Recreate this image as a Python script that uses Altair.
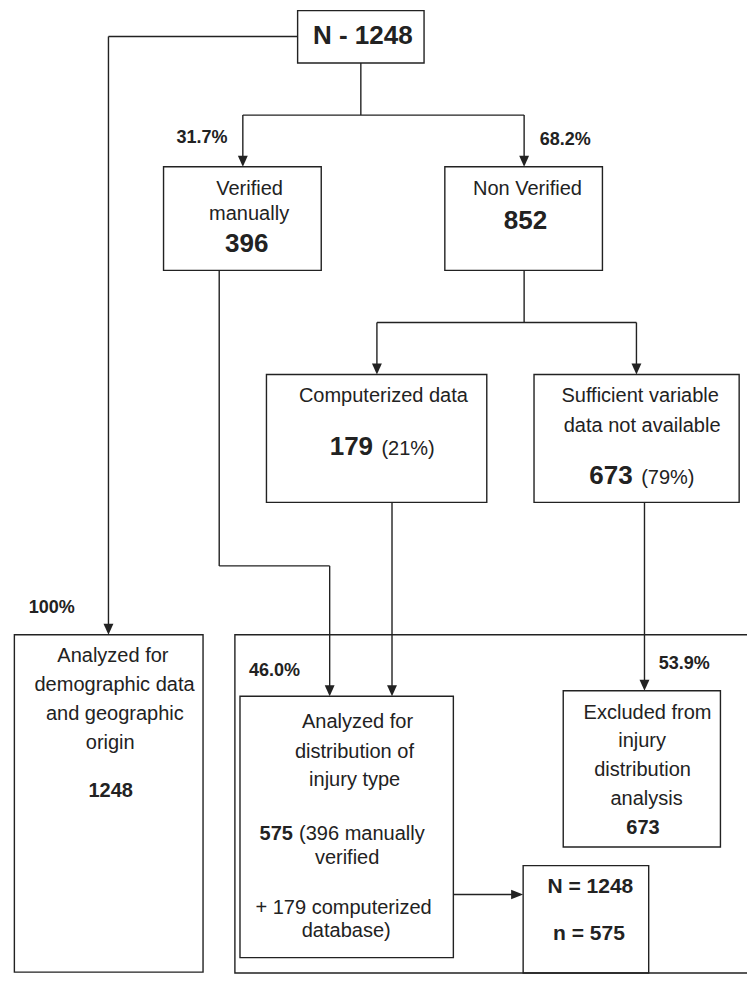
import altair as alt
import pandas as pd

# ---------------- content of the flow chart ----------------
# counts
n_total = 1248
n_verified = 396
n_nonverified = 852
n_computerized = 179
n_insufficient = 673
n_analyzed = 575

# text lines (label, x, baseline y, font size, weight, align) - layout in reference pixel space
txt_label = [
    f"N - {n_total}",
    "31.7%", "68.2%",
    "Verified", "manually", f"{n_verified}",
    "Non Verified", f"{n_nonverified}",
    "Computerized data", f"{n_computerized}", "(21%)",
    "Sufficient variable", "data not available", f"{n_insufficient}", "(79%)",
    "100%",
    "Analyzed for", "demographic data", "and geographic", "origin", f"{n_total}",
    "46.0%", "53.9%",
    "Analyzed for", "distribution of", "injury type",
    f"{n_analyzed}", f"({n_verified} manually", "verified",
    f"+ {n_computerized} computerized", "database)",
    "Excluded from", "injury", "distribution", "analysis", f"{n_insufficient}",
    f"N = {n_total}", f"n = {n_analyzed}",
]
txt_x = [
    366,
    202, 572.5,
    250.5, 250, 247.5,
    534, 532,
    387, 376.5, 385,
    649, 651, 641.3, 650,
    48.6,
    111, 112.7, 113, 108.3, 108.8,
    276, 694,
    360.6, 357.5, 357.7,
    294.7, 301, 350,
    346.4, 349.1,
    656.5, 651, 651.4, 655.5, 651.9,
    598.2, 596.8,
]
txt_y = [
    39.5,
    140.7, 142.7,
    193.3, 218.3, 251.7,
    193.3, 227.7,
    404, 458.3, 458.3,
    404, 434, 487.7, 487.7,
    618.3,
    668.3, 698.3, 727.3, 756.7, 805.7,
    682.7, 676,
    736, 765.7, 795,
    849.3, 849.3, 874.3,
    925, 948,
    726, 755, 784.3, 814.3, 843.3,
    904, 951.7,
]
txt_size = [
    26,
    18, 18,
    20, 20, 26,
    20, 26,
    20, 26, 20,
    20, 20, 26, 20,
    18,
    20, 20, 20, 20, 20,
    18, 18,
    20, 20, 20,
    20, 20, 20,
    20, 20,
    20, 20, 20, 20, 20,
    21, 21,
]
txt_weight = [
    "bold",
    "bold", "bold",
    "normal", "normal", "bold",
    "normal", "bold",
    "normal", "bold", "normal",
    "normal", "normal", "bold", "normal",
    "bold",
    "normal", "normal", "normal", "normal", "bold",
    "bold", "bold",
    "normal", "normal", "normal",
    "bold", "normal", "normal",
    "normal", "normal",
    "normal", "normal", "normal", "normal", "bold",
    "bold", "bold",
]
txt_align = [
    "center",
    "center", "center",
    "center", "center", "center",
    "center", "center",
    "center", "right", "left",
    "center", "center", "right", "left",
    "center",
    "center", "center", "center", "center", "center",
    "center", "center",
    "center", "center", "center",
    "right", "left", "center",
    "center", "center",
    "center", "center", "center", "center", "center",
    "center", "center",
]

# boxes (reference pixel space)
box_x1 = [235.5, 299.5, 162.7, 449.7, 267.7, 540.7, 10.5, 240.7, 570.5, 529.6]
box_y1 = [640.7, 5.7, 164.5, 164.5, 376, 376, 640.7, 703.3, 697.7, 875.7]
box_x2 = [820, 428.5, 323.6, 610.5, 492.5, 750, 203, 458.4, 730.9, 657.7]
box_y2 = [985, 59, 270, 270, 506, 506, 984, 969.3, 856.7, 985]

# connector segments
seg_x1 = [299.5, 106.5, 364, 243.6, 243.6, 530.6, 219.5, 219.5, 332.2, 530.6, 380.4, 380.4, 645.2, 395.8, 653.4, 458.4]
seg_y1 = [32, 32, 59, 112, 112, 112, 270, 570.7, 570.7, 270, 323, 323, 323, 506, 506, 905]
seg_x2 = [106.5, 106.5, 364, 530.6, 243.6, 530.6, 219.5, 332.2, 332.2, 530.6, 645.2, 380.4, 645.2, 395.8, 653.4, 522]
seg_y2 = [32, 632, 112, 112, 158, 158, 570.7, 570.7, 696, 323, 323, 370, 370, 696, 692, 905]

# arrow tips
down_x = [106.5, 243.6, 530.6, 380.4, 645.2, 332.2, 395.8, 653.4]
down_y = [640.7, 164.5, 164.5, 376, 376, 703.3, 703.3, 697.7]
right_x = [529.6]
right_y = [905]

# ---------------- scales ----------------
XD = [4, 758]
YD = [3, 989]
W, H = 739, 969
sx = W / (XD[1] - XD[0])
sy = H / (YD[1] - YD[0])
X = alt.Scale(domain=XD, nice=False, zero=False)
Y = alt.Scale(domain=YD, reverse=True, nice=False, zero=False)

INK = "#222222"
FONT = "Liberation Sans"
LW = 1.4

boxes = pd.DataFrame({"x": box_x1, "y": box_y1, "x2": box_x2, "y2": box_y2})
segs = pd.DataFrame({"x": seg_x1, "y": seg_y1, "x2": seg_x2, "y2": seg_y2})

R = 5.5  # arrow half size (px)
downs = pd.DataFrame({"x": down_x, "y": [v - R / sy for v in down_y]})
rights = pd.DataFrame({"x": [v - 6 / sx for v in right_x], "y": right_y})

texts = pd.DataFrame({
    "label": txt_label, "x": txt_x, "y": txt_y, "fsize": txt_size,
    "fweight": txt_weight, "falign": txt_align,
})

rect_layer = alt.Chart(boxes).mark_rect(
    fillOpacity=0, stroke=INK, strokeWidth=LW, clip=True
).encode(
    x=alt.X("x:Q", scale=X, axis=None),
    y=alt.Y("y:Q", scale=Y, axis=None),
    x2="x2:Q", y2="y2:Q",
)

seg_layer = alt.Chart(segs).mark_rule(color=INK, strokeWidth=LW).encode(
    x=alt.X("x:Q", scale=X, axis=None),
    y=alt.Y("y:Q", scale=Y, axis=None),
    x2="x2:Q", y2="y2:Q",
)

down_layer = alt.Chart(downs).mark_point(
    shape="M-0.9,-1L0.9,-1L0,1Z", filled=True, size=(2 * R) ** 2,
    color=INK, opacity=1, strokeWidth=0
).encode(
    x=alt.X("x:Q", scale=X, axis=None),
    y=alt.Y("y:Q", scale=Y, axis=None),
)

right_layer = alt.Chart(rights).mark_point(
    shape="M-1,-0.8L-1,0.8L1,0Z", filled=True, size=144,
    color=INK, opacity=1, strokeWidth=0
).encode(
    x=alt.X("x:Q", scale=X, axis=None),
    y=alt.Y("y:Q", scale=Y, axis=None),
)

text_layers = []
for weight in ["normal", "bold"]:
    for align in ["center", "left", "right"]:
        sub = texts[(texts["fweight"] == weight) & (texts["falign"] == align)]
        if len(sub) == 0:
            continue
        text_layers.append(
            alt.Chart(sub).mark_text(
                font=FONT, fontWeight=weight, align=align, baseline="alphabetic",
                color=INK,
            ).encode(
                x=alt.X("x:Q", scale=X, axis=None),
                y=alt.Y("y:Q", scale=Y, axis=None),
                text="label:N",
                size=alt.Size("fsize:Q", scale=None, legend=None),
            )
        )

chart = alt.layer(rect_layer, seg_layer, down_layer, right_layer, *text_layers).properties(
    width=W, height=H, padding=0,
    autosize=alt.AutoSizeParams(type="fit", contains="padding"),
).configure_view(stroke=None)

chart.save("out.html", embed_options={"renderer": "svg", "actions": False})
